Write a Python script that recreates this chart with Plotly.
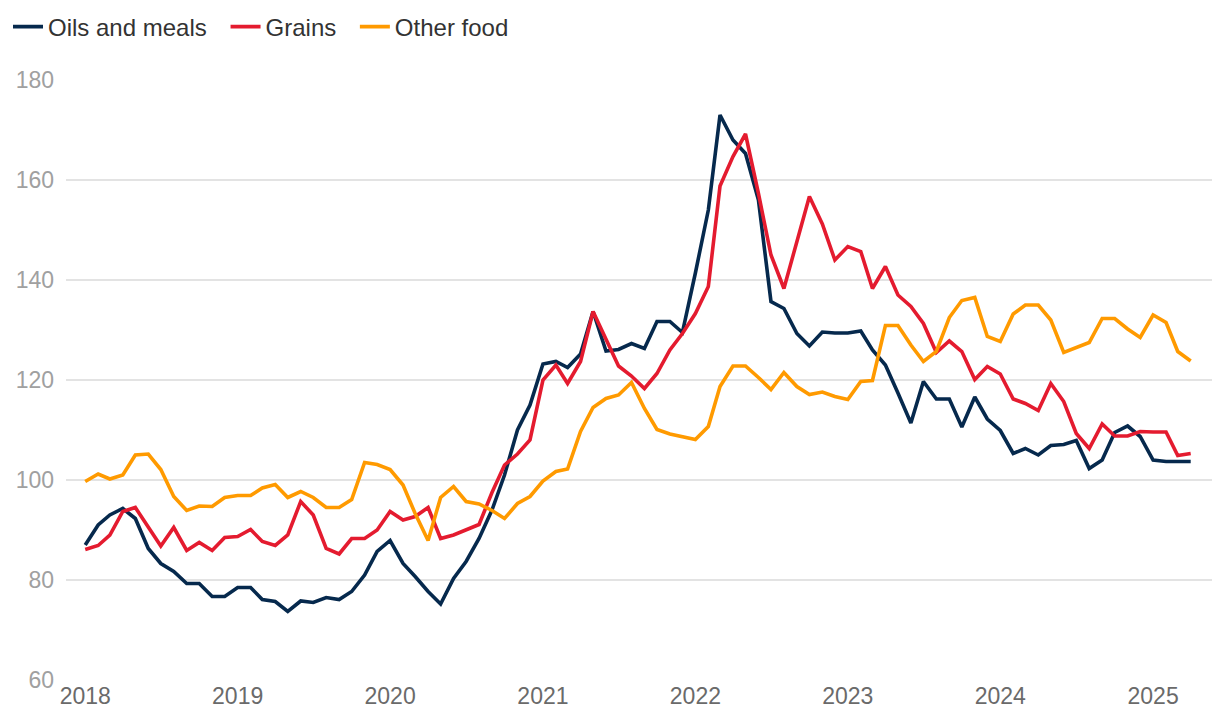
import plotly.graph_objects as go
import pandas as pd

months = pd.date_range("2018-01-01", "2025-04-01", freq="MS")

oils_and_meals = [
    87, 91, 93, 94.3, 92.3, 86.3, 83.3, 81.7, 79.3, 79.3, 76.7, 76.7,
    78.5, 78.5, 76.1, 75.7, 73.7, 75.8, 75.5, 76.5, 76.1, 77.7, 81, 85.7,
    87.9, 83.3, 80.7, 77.7, 75.2, 80.3, 83.7, 88.3, 94, 101, 110, 115,
    123.2, 123.7, 122.5, 125.2, 133.7, 125.8, 126.1, 127.3, 126.3, 131.7, 131.7, 129.5,
    141.4, 154, 173, 168, 165.3, 156, 135.7, 134.3, 129.3, 126.8, 129.6, 129.4,
    129.4, 129.8, 126, 123, 117.4, 111.4, 119.7, 116.2, 116.2, 110.6, 116.6, 112.2,
    109.9, 105.3, 106.3, 105, 106.9, 107.1, 107.9, 102.3, 104, 109.5, 110.8, 108.7,
    104, 103.7, 103.7, 103.7,
]

grains = [
    86.1, 86.9, 89, 93.7, 94.5, 90.7, 86.8, 90.5, 85.9, 87.5, 85.9, 88.5,
    88.7, 90.1, 87.7, 86.9, 89, 95.7, 93, 86.3, 85.2, 88.3, 88.3, 90,
    93.7, 92, 92.7, 94.5, 88.3, 89, 90.1, 91.1, 97.5, 103, 105.2, 108,
    120, 123, 119.3, 123.7, 133.7, 128.3, 122.8, 120.8, 118.3, 121.3, 126, 129.3,
    133.3, 138.7, 158.8, 164.7, 169.2, 157.3, 145, 138.3, 148, 156.7, 151.2, 144,
    146.7, 145.7, 138.3, 142.7, 137, 134.7, 131.3, 125.5, 127.8, 125.7, 120.1, 122.7,
    121.2, 116.2, 115.3, 113.9, 119.3, 115.7, 109.3, 106.3, 111.2, 108.8, 108.8, 109.7,
    109.6, 109.6, 104.9, 105.3,
]

other_food = [
    99.7, 101.2, 100.2, 101, 105, 105.2, 102.1, 96.7, 93.9, 94.8, 94.7, 96.5,
    96.9, 96.9, 98.4, 99.1, 96.5, 97.7, 96.5, 94.5, 94.5, 96.1, 103.5, 103.1,
    102.1, 99, 93.3, 87.9, 96.5, 98.7, 95.7, 95.2, 93.9, 92.3, 95.3, 96.7,
    99.8, 101.7, 102.2, 109.7, 114.5, 116.3, 117, 119.5, 114.3, 110.1, 109.2, 108.7,
    108.1, 110.7, 118.7, 122.8, 122.8, 120.5, 118.1, 121.5, 118.7, 117.1, 117.6, 116.7,
    116.1, 119.7, 119.9, 130.9, 130.9, 127, 123.7, 125.7, 132.5, 135.9, 136.5, 128.7,
    127.7, 133.2, 135, 135, 132, 125.5, 126.5, 127.5, 132.3, 132.3, 130.2, 128.5,
    133, 131.5, 125.7, 123.8,
]

series_names = ["Oils and meals", "Grains", "Other food"]
series_colors = ["#06294d", "#e41b2f", "#ff9a00"]
series_values = [oils_and_meals, grains, other_food]
legend_ids = ["legend", "legend2", "legend3"]
legend_x = [-0.004, 0.1795, 0.2862]

y_ticks = [60, 80, 100, 120, 140, 160, 180]
x_tick_years = [str(y) for y in range(2018, 2026)]

fig = go.Figure()
for name, color, vals, lid in zip(series_names, series_colors, series_values, legend_ids):
    fig.add_trace(go.Scatter(
        x=months, y=vals, name=name, mode="lines",
        line=dict(color=color, width=3.6),
        legend=lid,
    ))

legend_common = dict(
    orientation="h", xref="container", yref="container",
    xanchor="left", y=0.9735, yanchor="middle",
    font=dict(size=24, color="#333333"),
    itemwidth=30, bgcolor="rgba(0,0,0,0)",
)

fig.update_layout(
    width=1212, height=718,
    paper_bgcolor="white", plot_bgcolor="white",
    margin=dict(l=54, r=8, t=72, b=46),
    font=dict(family="Liberation Sans, Arial, sans-serif"),
    showlegend=True,
    legend=dict(x=legend_x[0], **legend_common),
    legend2=dict(x=legend_x[1], **legend_common),
    legend3=dict(x=legend_x[2], **legend_common),
    xaxis=dict(
        type="date",
        range=["2017-11-16", "2025-05-22"],
        tickvals=[f"{y}-01-01" for y in x_tick_years],
        ticktext=x_tick_years,
        showgrid=False, zeroline=False, showline=False,
        ticks="", tickfont=dict(size=23, color="#6a6a6a"),
    ),
    yaxis=dict(
        range=[60, 180],
        tickvals=y_ticks,
        showgrid=True, gridcolor="#e3e3e3", gridwidth=1.5,
        zeroline=False, showline=False, ticks="",
        ticklabelstandoff=11,
        tickfont=dict(size=23, color="#a0a0a0"),
    ),
)

fig.write_html("out.html")
